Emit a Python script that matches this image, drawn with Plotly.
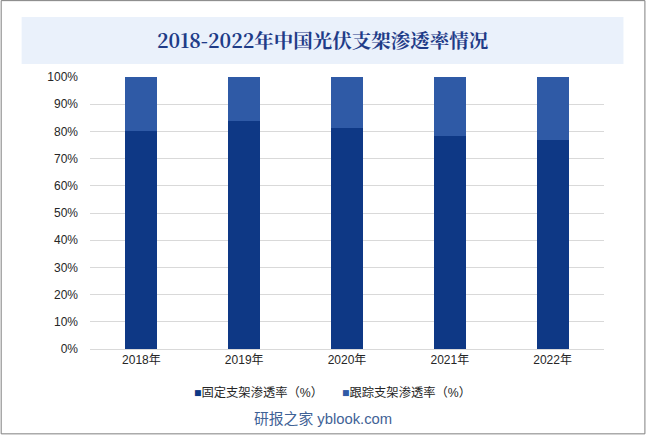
import plotly.graph_objects as go

years = ["2018年", "2019年", "2020年", "2021年", "2022年"]
fixed = [80.0, 83.9, 81.3, 78.3, 76.9]
tracking = [20.0, 16.1, 18.7, 21.7, 23.1]
series_names = ["固定支架渗透率（%）", "跟踪支架渗透率（%）"]
y_ticks = [0, 10, 20, 30, 40, 50, 60, 70, 80, 90, 100]
y_tick_labels = [f"{v}%" for v in y_ticks]

c_fixed = "#0E3885"
c_track = "#2F5AA6"

W, H = 646, 435
L, R, T, B = 89.5, 604.5, 77, 349.5
pw, ph = R - L, B - T

def px(x):
    return (x - L) / pw

def py(y):
    return (B - y) / ph

fig = go.Figure()
fig.add_bar(x=years, y=fixed, name=series_names[0], marker_color=c_fixed,
            marker_line_width=0, showlegend=False)
fig.add_bar(x=years, y=tracking, name=series_names[1], marker_color=c_track,
            marker_line_width=0, showlegend=False)

font = "Liberation Sans, Arial, Noto Sans CJK SC, sans-serif"

fig.update_layout(
    width=W, height=H,
    barmode="stack", bargap=0.69,
    margin=dict(l=L, r=W - R, t=T, b=H - B, pad=0),
    paper_bgcolor="white", plot_bgcolor="white",
    font=dict(family=font, size=12, color="#262626"),
    xaxis=dict(showgrid=False, showline=True, linecolor="#D9D9D9", linewidth=1,
               ticks="", tickfont=dict(size=12, color="#262626"), fixedrange=True),
    yaxis=dict(range=[0, 100], tickvals=y_ticks, ticktext=y_tick_labels,
               showgrid=True, gridcolor="#D9D9D9", gridwidth=1, zeroline=False,
               showline=False, ticks="", ticklabelstandoff=11,
               tickfont=dict(size=12, color="#262626"), fixedrange=True),
    showlegend=False,
)

shapes = [
    dict(type="rect", xref="paper", yref="paper", x0=px(0.5), x1=px(645.5),
         y0=py(434.5), y1=py(0.5), line=dict(color="#7F7F7F", width=1),
         fillcolor="rgba(0,0,0,0)", layer="below"),
    dict(type="rect", xref="paper", yref="paper", x0=px(21), x1=px(624),
         y0=py(64), y1=py(17), line=dict(width=0), fillcolor="#EAF1FB", layer="below"),
]
fig.update_layout(shapes=shapes)

ann = [
    dict(text="<b>2018-2022年中国光伏支架渗透率情况</b>", x=px(323), y=py(40),
         xref="paper", yref="paper", showarrow=False, xanchor="center", yanchor="middle",
         font=dict(family="Noto Serif CJK SC, Noto Sans CJK SC, serif", size=19.5, color="#1F3C88")),
    dict(text=f"<span style='color:{c_fixed}'>■</span>{series_names[0]}", x=px(192), y=py(393),
         xref="paper", yref="paper", showarrow=False, xanchor="left", yanchor="middle",
         font=dict(family=font, size=12.3, color="#262626")),
    dict(text=f"<span style='color:{c_track}'>■</span>{series_names[1]}", x=px(340), y=py(393),
         xref="paper", yref="paper", showarrow=False, xanchor="left", yanchor="middle",
         font=dict(family=font, size=12.3, color="#262626")),
    dict(text="研报之家 yblook.com", x=px(322.5), y=py(420),
         xref="paper", yref="paper", showarrow=False, xanchor="center", yanchor="middle",
         font=dict(family=font, size=14.8, color="#3F6296")),
]
fig.update_layout(annotations=ann)

fig.write_html("out.html", config={"displayModeBar": False},
               post_script="document.body.style.margin='0';document.body.style.overflow='hidden';")
